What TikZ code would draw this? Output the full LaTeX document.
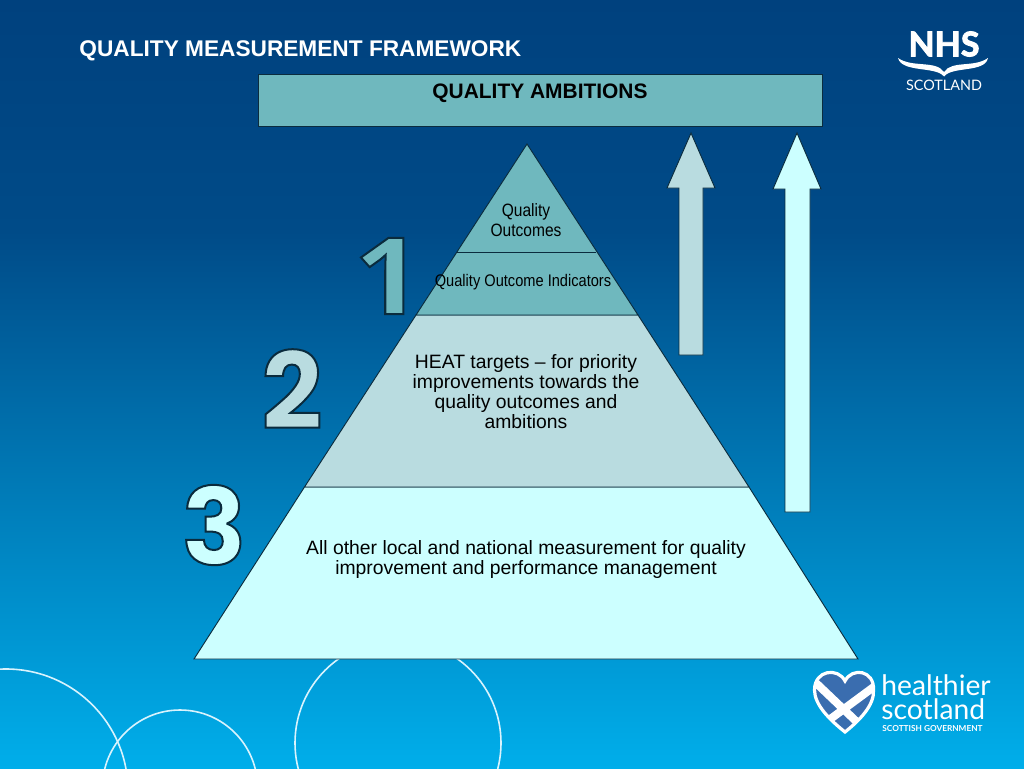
\documentclass[tikz,border=0pt]{standalone}
\usepackage{fontspec}
\setmainfont{Liberation Sans}
\newfontfamily\narrowfont[FakeStretch=0.87]{Liberation Sans}
\newfontfamily\logofont{Lato}
\newfontfamily\numberfont{Poppins}
\newfontfamily\onefont[FakeStretch=1.12]{Open Sans}
\definecolor{tierone}{HTML}{6FB8BE}
\definecolor{tiertwo}{HTML}{B9DCE0}
\definecolor{tierthree}{HTML}{CCFFFF}
\definecolor{edgeblue}{HTML}{0B2C3E}
\definecolor{heartblue}{HTML}{3A6DAF}
\definecolor{bgtop}{HTML}{00417E}
\definecolor{bgmid}{HTML}{004B88}
\definecolor{bgbot}{HTML}{00AEEA}
\pgfdeclareverticalshading{slidebg}{100bp}{color(0bp)=(bgbot);color(25bp)=(bgbot);color(60bp)=(bgmid);color(75bp)=(bgtop);color(100bp)=(bgtop)}
\newcommand{\outlined}[1]{\special{pdf:code q 2 Tr 1.5 w 0.04 0.17 0.24 RG}#1\special{pdf:code Q}}
\newcommand{\heavy}[1]{\special{pdf:code q 2 Tr 0.7 w 1 1 1 RG}#1\special{pdf:code Q}}
\usetikzlibrary{positioning}

\begin{document}
\begin{tikzpicture}[x=.75pt,y=-.75pt,semithick,
    tier/.style={draw=edgeblue,line width=.7pt},
    ring/.style={draw=white!85!cyan,line width=1.2pt},
    body/.style={align=center,font=\fontsize{14.5}{15}\selectfont,text=black},
    small/.style={align=center,font=\narrowfont\fontsize{12.6}{15}\selectfont,text=black},
    numeral/.style={font=\numberfont\fontsize{80}{80}\bfseries\selectfont,inner sep=0pt}]
  \useasboundingbox (0,0) rectangle (1024,768);
  \shade[shading=slidebg] (0,0) rectangle (1024,768);
  % rings behind the pyramid
  \begin{scope}
    \clip (0,0) rectangle (1024,768);
    \draw[ring] (6,791) circle (122);
    \draw[ring] (180,787.5) circle (77.5);
    \draw[ring] (398,743) circle (103);
  \end{scope}
  \node[anchor=base west,inner sep=0pt,text=white,font=\fontsize{17}{18}\bfseries\selectfont] (title) at (79,56) {QUALITY MEASUREMENT FRAMEWORK};
  % top box
  \draw[tier,fill=tierone] (258,74) rectangle (822,126);
  \node[font=\fontsize{15.7}{16}\bfseries\selectfont,text=black] (ambitions) at (540,93.5) {QUALITY AMBITIONS};
  % pyramid
  \path[tier,fill=tierthree] (304.5,487) -- (749,487) -- (858,659) -- (194,659) -- cycle;
  \path[tier,fill=tiertwo] (416,315) -- (638,315) -- (749,487) -- (304.5,487) -- cycle;
  \path[tier,fill=tierone] (527,144) -- (638,315) -- (416,315) -- cycle;
  \draw[tier] (457,252) -- (596,252);
  \node[small,font=\narrowfont\fontsize{13.4}{15}\selectfont] (outcomes) at (526,220.5) {Quality\\Outcomes};
  \node[small] (indicators) at (523,282) {Quality Outcome Indicators};
  \node[body] (heat) at (526,391.5) {HEAT targets -- for priority\\improvements towards the\\quality outcomes and\\ambitions};
  \node[body] (other) at (526,559) {All other local and national measurement for quality\\improvement and performance management};
  % arrows
  \draw[tier,fill=tiertwo] (691,133) -- (715,188) -- (703,188) -- (703,355) -- (679,355) -- (679,188) -- (667,188) -- cycle;
  \draw[tier,fill=tierthree] (797,133) -- (821,189) -- (810,189) -- (810,512) -- (785,512) -- (785,189) -- (773,189) -- cycle;
  % numbers
  \node[numeral,text=tierone,font=\onefont\fontsize{80}{80}\bfseries\selectfont] (one) at (388,276) {\outlined{1}};
  \node[numeral,text=tiertwo] (two) at (292,389) {\outlined{2}};
  \node[numeral,text=tierthree] (three) at (214,525) {\outlined{3}};
  % NHS logo
  \node[text=white,font=\logofont\fontsize{25.5}{25}\bfseries\selectfont,inner sep=0pt] (nhs) at (944,44) {\heavy{NHS}};
  \fill[white] (898,58) .. controls (912,68) and (936,60) .. (944,72) .. controls (952,60) and (974,68) .. (988,58) .. controls (985,73) and (952,66) .. (944,76.5) .. controls (936,66) and (902,73) .. (898,58) -- cycle;
  \node[text=white,font=\logofont\fontsize{10.8}{11}\selectfont,inner sep=0pt] (scotland) at (944,85.5) {SCOTLAND};
  % healthier scotland logo
  \begin{scope}
    \path[clip] (845,732) .. controls (830,720) and (814.5,705) .. (814.5,690) .. controls (814.5,670) and (838,667) .. (845,681) .. controls (852,667) and (874.5,670) .. (873.5,690) .. controls (874.5,705) and (860,720) .. (845,732) -- cycle;
    \fill[heartblue] (810,665) rectangle (880,735);
    \draw[white,line width=6pt] (816,683) -- (858,723) (875,686) -- (829,720);
  \end{scope}
  \draw[white,line width=2.4pt] (845,732) .. controls (830,720) and (814.5,705) .. (814.5,690) .. controls (814.5,670) and (838,667) .. (845,681) .. controls (852,667) and (874.5,670) .. (873.5,690) .. controls (874.5,705) and (860,720) .. (845,732) -- cycle;
  \node[anchor=west,align=left,text=white,font=\logofont\fontsize{21.2}{18}\selectfont,inner sep=0pt] (healthier) at (881,697) {healthier\\scotland};
  \node[anchor=base west,text=white,font=\logofont\fontsize{6.2}{6}\bfseries\selectfont,inner sep=0pt] (gov) at (882,731) {SCOTTISH GOVERNMENT};
\end{tikzpicture}
\end{document}
